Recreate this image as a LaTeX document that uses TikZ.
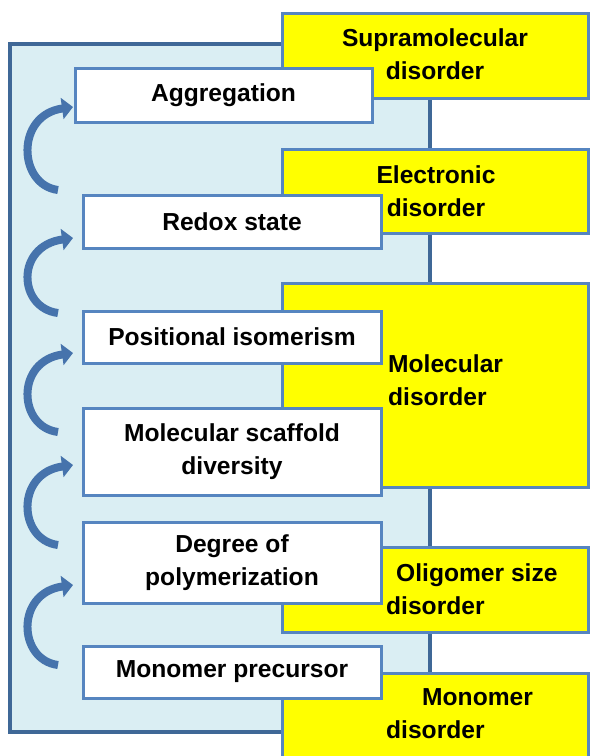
\documentclass[tikz,border=0pt]{standalone}
\usepackage{fontspec}
\setmainfont{Liberation Sans}
\usetikzlibrary{arrows.meta}
\definecolor{framefill}{HTML}{DAEEF3}
\definecolor{framedraw}{HTML}{3F6897}
\definecolor{boxdraw}{HTML}{5685C0}
\definecolor{yfill}{HTML}{FFFF00}
\definecolor{arrowblue}{HTML}{4673AC}
\begin{document}
\begin{tikzpicture}[x=1pt,y=-1pt,
  txt/.style={font=\fontsize{24.6}{33}\selectfont\bfseries, inner sep=0pt},
  wbox/.style={txt, draw=boxdraw, line width=3pt, fill=white, minimum width=298pt, align=center},
  ybox/.style={draw=boxdraw, line width=3pt, fill=yfill, minimum width=306pt, inner sep=0pt},
  frame/.style={draw=framedraw, line width=3.5pt, fill=framefill, inner sep=0pt},
  curv/.style={arrowblue, line width=8pt, -{Triangle[length=11pt,width=21pt]}}]
\path[use as bounding box] (0,0) rectangle (590,756);
\clip (0,0) rectangle (590,756);
% outer frame
\node[frame, minimum width=420pt, minimum height=688pt] (fr) at (220,388) {};
% yellow boxes
\node[ybox, minimum height=85pt] (ysup) at (435,55.5) {};
\node[ybox, minimum height=84pt] (yele) at (435,191) {};
\node[ybox, minimum height=204pt] (ymol) at (435,385) {};
\node[ybox, minimum height=85pt] (yoli) at (435,589.5) {};
\node[ybox, minimum height=110pt] (ymon) at (435,728) {};
% yellow labels
\node[txt, align=center] (lsup) at (435,54.5) {Supramolecular\\disorder};
\node[txt, align=center] (lele) at (436,191) {Electronic\\disorder};
\node[txt, align=left, anchor=west] (lmol) at (388,380) {Molecular\\disorder};
\node[txt, align=left, anchor=west] (loli) at (386,589) {\hspace*{10pt}Oligomer size\\disorder};
\node[txt, align=left, anchor=west] (lmon) at (386,714) {\hspace*{36pt}Monomer\\disorder};
% white boxes
\node[wbox, minimum width=297pt, minimum height=54pt] (agg) at (223.5,95) {Aggregation};
\node[wbox, minimum height=53pt] (red) at (232,221.5) {Redox state};
\node[wbox, minimum height=52pt] (pos) at (232,337) {Positional isomerism};
\node[wbox, minimum height=87pt] (sca) at (232,451.5) {Molecular scaffold\\diversity};
\node[wbox, minimum height=81pt] (deg) at (232,562.5) {Degree of\\polymerization};
\node[wbox, minimum height=52pt] (mon) at (232,672) {Monomer precursor};
% curved arrows
\coordinate (t1) at (58,190); \coordinate (h1) at (73,107);
\coordinate (t2) at (58,313); \coordinate (h2) at (73,238);
\coordinate (t3) at (58,432); \coordinate (h3) at (73,353);
\coordinate (t4) at (58,545); \coordinate (h4) at (73,465);
\coordinate (t5) at (58,665); \coordinate (h5) at (73,585);
\foreach \i in {1,...,5}{
  \draw[curv] (t\i) .. controls +(-40,-5) and +(-58,8) .. (h\i);
}
\end{tikzpicture}
\end{document}
